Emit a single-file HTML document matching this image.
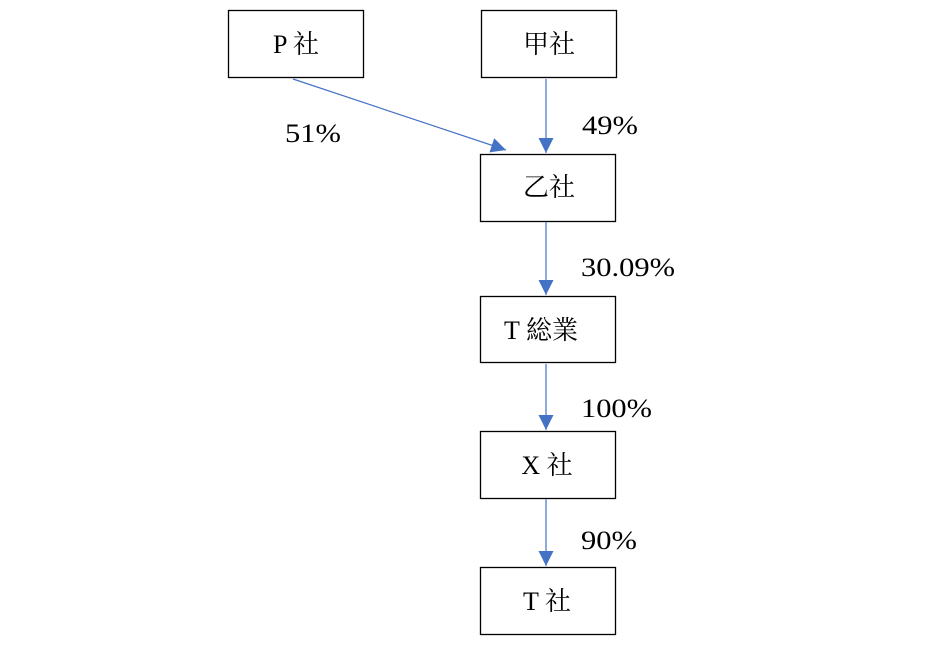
<!DOCTYPE html>
<html><head><meta charset="utf-8"><style>
body{margin:0;background:#fff;width:945px;height:648px;overflow:hidden}
svg text{font-family:"Liberation Serif","Noto Serif CJK SC",serif;font-size:26px;fill:#000}
</style></head><body>
<svg width="945" height="648" viewBox="0 0 945 648">
<defs>
<marker id="b" viewBox="0 0 10 10" markerWidth="15" markerHeight="15" refX="10" refY="5" orient="auto" markerUnits="userSpaceOnUse"><path d="M0,0 L10,5 L0,10z" fill="#4472c4"/></marker></defs>
<g fill="none" stroke="#000" stroke-width="1.3">
<rect x="228.5" y="10.5" width="135" height="67"/>
<rect x="481.5" y="10.5" width="135" height="67"/>
<rect x="480.5" y="154.5" width="135" height="67"/>
<rect x="480.5" y="296.5" width="135" height="66"/>
<rect x="480.5" y="431.5" width="135" height="67"/>
<rect x="480.5" y="567.5" width="135" height="67"/>
</g>
<g stroke="#4472c4" stroke-width="1.2" fill="none">
<line x1="293" y1="79" x2="506" y2="150" marker-end="url(#b)"/>
<line x1="546" y1="79" x2="546" y2="153" marker-end="url(#b)"/>
<line x1="546" y1="222" x2="546" y2="295" marker-end="url(#b)"/>
<line x1="546" y1="364" x2="546" y2="430" marker-end="url(#b)"/>
<line x1="546" y1="499" x2="546" y2="566" marker-end="url(#b)"/>
</g>
<text x="296" y="53" text-anchor="middle">P 社</text>
<text x="549" y="53" text-anchor="middle">甲社</text>
<text x="549" y="196" text-anchor="middle">乙社</text>
<text x="541" y="339" text-anchor="middle">T 総業</text>
<text x="547" y="474" text-anchor="middle">X 社</text>
<text x="547" y="610" text-anchor="middle">T 社</text>
<text x="285" y="142" textLength="56" lengthAdjust="spacingAndGlyphs">51%</text>
<text x="582" y="134" textLength="56" lengthAdjust="spacingAndGlyphs">49%</text>
<text x="581" y="276" textLength="94" lengthAdjust="spacingAndGlyphs">30.09%</text>
<text x="581" y="417" textLength="71" lengthAdjust="spacingAndGlyphs">100%</text>
<text x="581" y="549" textLength="56" lengthAdjust="spacingAndGlyphs">90%</text>
</svg>
</body></html>
